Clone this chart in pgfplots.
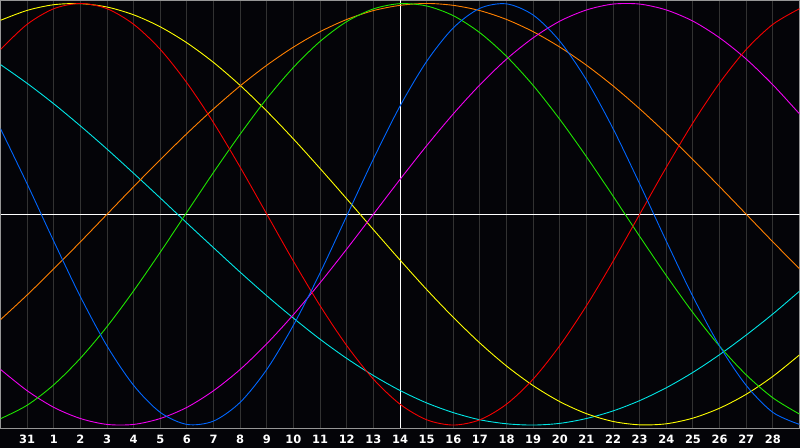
\documentclass[border=0pt]{standalone}
\usepackage{pgfplots}
\pgfplotsset{compat=1.18}
\usepackage{pgfplotstable}
\usepackage{fontspec}
\setsansfont{DejaVu Sans}
\definecolor{bg}{RGB}{4,4,8}
\definecolor{gridgray}{RGB}{50,50,50}
\definecolor{bordergray}{RGB}{150,150,150}
\definecolor{cblue}{RGB}{0,102,255}
\definecolor{cred}{RGB}{245,0,0}
\definecolor{cyellow}{RGB}{255,255,0}
\definecolor{ccyan}{RGB}{0,230,230}
\definecolor{corange}{RGB}{255,128,0}
\definecolor{cgreen}{RGB}{30,230,0}
\definecolor{cmagenta}{RGB}{240,0,240}
\pgfplotstableread{
t blue red yellow cyan orange green magenta
0 0.406 0.782 0.920 0.710 -0.500 -0.970 -0.736
1 0.144 0.901 0.967 0.621 -0.383 -0.906 -0.837
2 -0.128 0.975 0.994 0.524 -0.259 -0.809 -0.916
3 -0.391 1.000 0.999 0.419 -0.131 -0.683 -0.969
4 -0.625 0.975 0.983 0.309 0.000 -0.533 -0.997
5 -0.812 0.901 0.946 0.194 0.131 -0.363 -0.997
6 -0.940 0.782 0.889 0.077 0.259 -0.180 -0.969
7 -0.997 0.623 0.813 -0.042 0.383 0.010 -0.916
8 -0.981 0.434 0.720 -0.159 0.500 0.199 -0.837
9 -0.892 0.223 0.611 -0.275 0.609 0.380 -0.736
10 -0.736 0.000 0.489 -0.387 0.707 0.549 -0.614
11 -0.526 -0.223 0.357 -0.493 0.793 0.697 -0.476
12 -0.278 -0.434 0.217 -0.593 0.866 0.820 -0.325
13 -0.008 -0.623 0.073 -0.684 0.924 0.914 -0.165
14 0.262 -0.782 -0.073 -0.765 0.966 0.974 0.000
15 0.513 -0.901 -0.217 -0.836 0.991 0.999 0.165
16 0.725 -0.975 -0.357 -0.895 1.000 0.988 0.325
17 0.884 -1.000 -0.489 -0.941 0.991 0.942 0.476
18 0.977 -0.975 -0.611 -0.975 0.966 0.861 0.614
19 0.998 -0.901 -0.720 -0.994 0.924 0.749 0.736
20 0.945 -0.782 -0.813 -1.000 0.866 0.611 0.837
21 0.821 -0.623 -0.889 -0.992 0.793 0.450 0.916
22 0.637 -0.434 -0.946 -0.969 0.707 0.273 0.969
23 0.406 -0.223 -0.983 -0.933 0.609 0.086 0.997
24 0.144 0.000 -0.999 -0.884 0.500 -0.105 0.997
25 -0.128 0.223 -0.994 -0.823 0.383 -0.291 0.969
26 -0.391 0.434 -0.967 -0.750 0.259 -0.467 0.916
27 -0.625 0.623 -0.920 -0.666 0.131 -0.626 0.837
28 -0.812 0.782 -0.854 -0.573 0.000 -0.762 0.736
29 -0.940 0.901 -0.769 -0.473 -0.131 -0.871 0.614
30 -0.997 0.975 -0.667 -0.365 -0.259 -0.948 0.476
}\bio
\begin{document}
\begin{tikzpicture}
\fill[bg] (0,0) rectangle (800bp,448bp);
\useasboundingbox (0,0) rectangle (800bp,448bp);
\begin{axis}[
  at={(0.5bp,20bp)}, anchor=south west,
  scale only axis, width=799bp, height=427.5bp,
  xmin=0, xmax=30, ymin=-1.014, ymax=1.014,
  axis background/.style={fill=bg},
  axis line style={draw=bordergray, line width=1bp},
  xtick={1,2,3,4,5,6,7,8,9,10,11,12,13,14,15,16,17,18,19,20,21,22,23,24,25,26,27,28,29},
  xticklabels={31,1,2,3,4,5,6,7,8,9,10,11,12,13,14,15,16,17,18,19,20,21,22,23,24,25,26,27,28},
  ytick=\empty,
  xmajorgrids,
  grid style={draw=gridgray, line width=1bp},
  major tick length=0pt,
  xticklabel style={font=\sffamily\bfseries\fontsize{11.5}{11.5}\selectfont, text=white, anchor=base, yshift=-15bp, inner sep=0pt},
  every axis plot/.append style={line width=0.9bp, smooth},
]
\draw[white, line width=1bp] (axis cs:0,0) -- (axis cs:30,0);
\draw[white, line width=1bp] (axis cs:15,-1.014) -- (axis cs:15,1.014);
\addplot[ccyan] table[x=t,y=cyan]{\bio};
\addplot[cyellow] table[x=t,y=yellow]{\bio};
\addplot[corange] table[x=t,y=orange]{\bio};
\addplot[cmagenta] table[x=t,y=magenta]{\bio};
\addplot[cgreen] table[x=t,y=green]{\bio};
\addplot[cred] table[x=t,y=red]{\bio};
\addplot[cblue] table[x=t,y=blue]{\bio};
\end{axis}
\end{tikzpicture}
\end{document}
